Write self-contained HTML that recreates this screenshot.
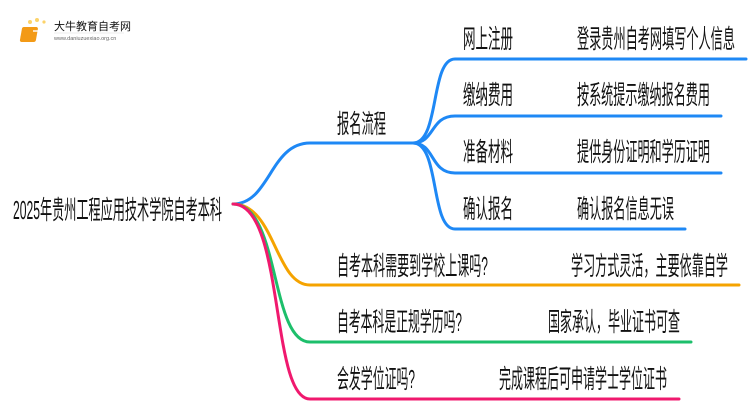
<!DOCTYPE html>
<html><head><meta charset="utf-8"><style>
html,body{margin:0;padding:0;background:#fff;width:750px;height:410px;overflow:hidden}
svg text{font-family:"Liberation Sans","Noto Sans CJK SC",sans-serif;fill:#111}
</style></head><body>
<svg width="750" height="410" viewBox="0 0 750 410" xmlns="http://www.w3.org/2000/svg">
<!-- logo -->
<g>
<circle cx="24" cy="29" r="2" fill="#fcd36a"/><circle cx="30" cy="22" r="2" fill="#fcd36a"/><circle cx="37" cy="20" r="2" fill="#fcd36a"/><circle cx="44" cy="22" r="1.6" fill="#fcd36a"/><circle cx="22" cy="37" r="1.6" fill="#fcd36a"/>
<rect x="27" y="27" width="16" height="15" rx="2" fill="#f39a16" transform="skewX(-10)"/>
<rect x="33" y="30" width="10" height="2" fill="#fff" opacity=".7"/>
<text x="54" y="30" font-size="11">大牛教育自考网</text>
<line x1="54" y1="33" x2="124" y2="33" stroke="#ddd" stroke-width=".6"/>
<text x="54" y="40" font-size="5.5" fill="#666" style="fill:#666">www.daniuzuexiao.org.cn</text>
</g>
<g fill="none" stroke-width="3" stroke-linecap="round">
<path d="M233 204 C270 204 270 143 310 143 L413 143" stroke="#1E88F5"/>
<path d="M413 143 C440 143 430 59 455 59 L746 59" stroke="#1E88F5"/>
<path d="M413 143 C435 143 430 116 455 116 L721 116" stroke="#1E88F5"/>
<path d="M413 143 C435 143 430 173 455 173 L721 173" stroke="#1E88F5"/>
<path d="M413 143 C440 143 430 229 455 229 L685 229" stroke="#1E88F5"/>
<path d="M233 204 C275 204 275 285 310 285 L739 285" stroke="#F5A300"/>
<path d="M233 204 C280 204 270 342 310 342 L691 342" stroke="#1DBF6B"/>
<path d="M233 204 C285 204 270 399 310 399 L679 399" stroke="#F0196E"/>
</g>
<g font-size="26">
<text x="13" y="219" textLength="209" lengthAdjust="spacingAndGlyphs">2025年贵州工程应用技术学院自考本科</text>
<text x="337" y="133" textLength="49" lengthAdjust="spacingAndGlyphs">报名流程</text>
<text x="463" y="48" textLength="50" lengthAdjust="spacingAndGlyphs">网上注册</text>
<text x="577" y="48" textLength="158" lengthAdjust="spacingAndGlyphs">登录贵州自考网填写个人信息</text>
<text x="463" y="104" textLength="50" lengthAdjust="spacingAndGlyphs">缴纳费用</text>
<text x="577" y="104" textLength="133" lengthAdjust="spacingAndGlyphs">按系统提示缴纳报名费用</text>
<text x="463" y="161" textLength="50" lengthAdjust="spacingAndGlyphs">准备材料</text>
<text x="577" y="161" textLength="133" lengthAdjust="spacingAndGlyphs">提供身份证明和学历证明</text>
<text x="463" y="218" textLength="50" lengthAdjust="spacingAndGlyphs">确认报名</text>
<text x="577" y="218" textLength="97" lengthAdjust="spacingAndGlyphs">确认报名信息无误</text>
<text x="337" y="275" textLength="151" lengthAdjust="spacingAndGlyphs">自考本科需要到学校上课吗?</text>
<text x="571" y="275" textLength="157" lengthAdjust="spacingAndGlyphs">学习方式灵活，主要依靠自学</text>
<text x="337" y="331" textLength="125" lengthAdjust="spacingAndGlyphs">自考本科是正规学历吗?</text>
<text x="548" y="331" textLength="132" lengthAdjust="spacingAndGlyphs">国家承认，毕业证书可查</text>
<text x="337" y="388" textLength="78" lengthAdjust="spacingAndGlyphs">会发学位证吗?</text>
<text x="499" y="388" textLength="168" lengthAdjust="spacingAndGlyphs">完成课程后可申请学士学位证书</text>
</g>
</svg>
</body></html>
